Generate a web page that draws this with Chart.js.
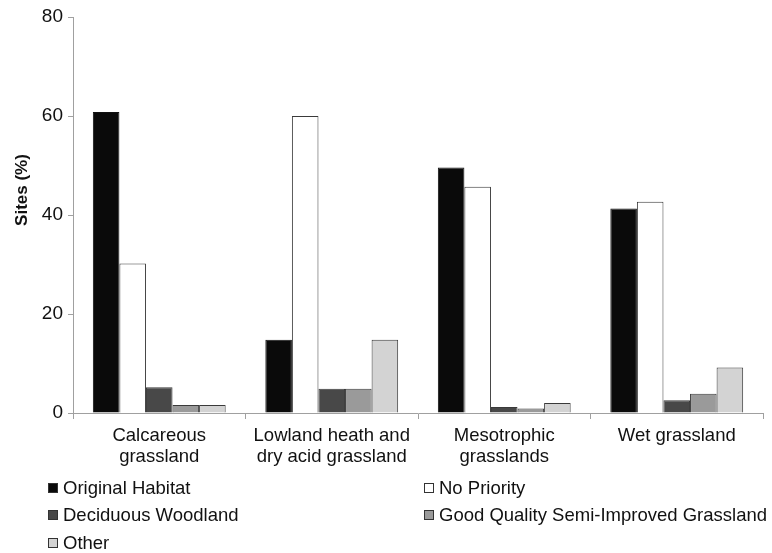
<!DOCTYPE html>
<html>
<head>
<meta charset="utf-8">
<script src="https://cdn.jsdelivr.net/npm/chart.js@4"></script>
<style>
  html, body { margin: 0; padding: 0; background: #fff; }
  #wrap { width: 772px; height: 553px; }
</style>
</head>
<body>
<div id="wrap"><canvas id="habitatChart"></canvas></div>
<script>
// data
const categories = [
  ['Calcareous', 'grassland'],
  ['Lowland heath and', 'dry acid grassland'],
  ['Mesotrophic', 'grasslands'],
  ['Wet grassland']
];
const seriesNames = ['Original Habitat', 'No Priority', 'Deciduous Woodland',
  'Good Quality Semi-Improved Grassland', 'Other'];
const originalHabitat = [60.8, 14.8, 49.6, 41.3];
const noPriority = [30.2, 60, 45.7, 42.7];
const deciduousWoodland = [5.2, 4.9, 1.2, 2.6];
const goodQualityGrassland = [1.6, 4.9, 0.9, 3.9];
const other = [1.6, 14.8, 2.0, 9.2];
const yTicks = [0, 20, 40, 60, 80];
const yTitle = 'Sites (%)';

const fills = ['#0a0a0a', '#ffffff', '#484848', '#9a9a9a', '#d3d3d3'];
const font = "'Liberation Sans', Arial, sans-serif";

const ctx = document.getElementById('habitatChart').getContext('2d');

// two-column legend drawn on the canvas, like the Excel original
const gridLegend = {
  id: 'gridLegend',
  afterDraw(chart) {
    const c = chart.ctx;
    const cols = [48, 424];
    const rows = [488, 515, 543];
    c.save();
    c.font = '18.5px ' + font;
    c.textBaseline = 'middle';
    chart.data.datasets.forEach((ds, i) => {
      const x = cols[i % 2];
      const y = rows[Math.floor(i / 2)];
      c.fillStyle = ds.backgroundColor;
      c.fillRect(x + 0.5, y - 4.5, 9, 9);
      c.strokeStyle = '#333';
      c.lineWidth = 1;
      c.strokeRect(x + 0.5, y - 4.5, 9, 9);
      c.fillStyle = '#111';
      c.fillText(ds.label, x + 15, y + 1);
    });
    c.restore();
  }
};

// y title sits above the axis middle in the original, so draw it by hand
const yTitlePlugin = {
  id: 'yTitlePlugin',
  afterDraw(chart) {
    const c = chart.ctx;
    c.save();
    c.translate(22, 190);
    c.rotate(-Math.PI / 2);
    c.font = 'bold 17px ' + font;
    c.fillStyle = '#111';
    c.textAlign = 'center';
    c.textBaseline = 'middle';
    c.fillText(yTitle, 0, 0);
    c.restore();
  }
};

const seriesValues = [originalHabitat, noPriority, deciduousWoodland, goodQualityGrassland, other];

new Chart(ctx, {
  type: 'bar',
  data: {
    labels: categories,
    datasets: seriesNames.map((name, i) => ({
      label: name,
      data: seriesValues[i],
      backgroundColor: fills[i],
      borderColor: i === 0 ? '#111' : '#3a3a3a',
      borderWidth: 1,
      categoryPercentage: 0.77,
      barPercentage: 1
    }))
  },
  options: {
    responsive: true,
    maintainAspectRatio: false,
    animation: false,
    layout: { padding: { top: 17, right: 9, bottom: 85, left: 0 } },
    plugins: {
      legend: { display: false },
      tooltip: { enabled: false }
    },
    scales: {
      x: {
        grid: {
          offset: true,
          drawOnChartArea: false,
          drawTicks: true,
          tickLength: 6,
          color: '#a0a0a0'
        },
        border: { color: '#a0a0a0', width: 1 },
        ticks: {
          color: '#111',
          font: { family: font, size: 18.5, lineHeight: 1.1 },
          maxRotation: 0,
          autoSkip: false,
          padding: 7
        },
        afterFit(scale) { scale.height = 55; }
      },
      y: {
        min: 0,
        max: 80,
        afterBuildTicks(scale) { scale.ticks = yTicks.map(v => ({ value: v })); },
        grid: {
          drawOnChartArea: false,
          drawTicks: true,
          tickLength: 5,
          color: '#a0a0a0'
        },
        border: { color: '#a0a0a0', width: 1 },
        ticks: {
          color: '#111',
          font: { family: font, size: 19 },
          padding: 5
        },
        afterFit(scale) { scale.width = 73; }
      }
    }
  },
  plugins: [gridLegend, yTitlePlugin]
});
</script>
</body>
</html>
